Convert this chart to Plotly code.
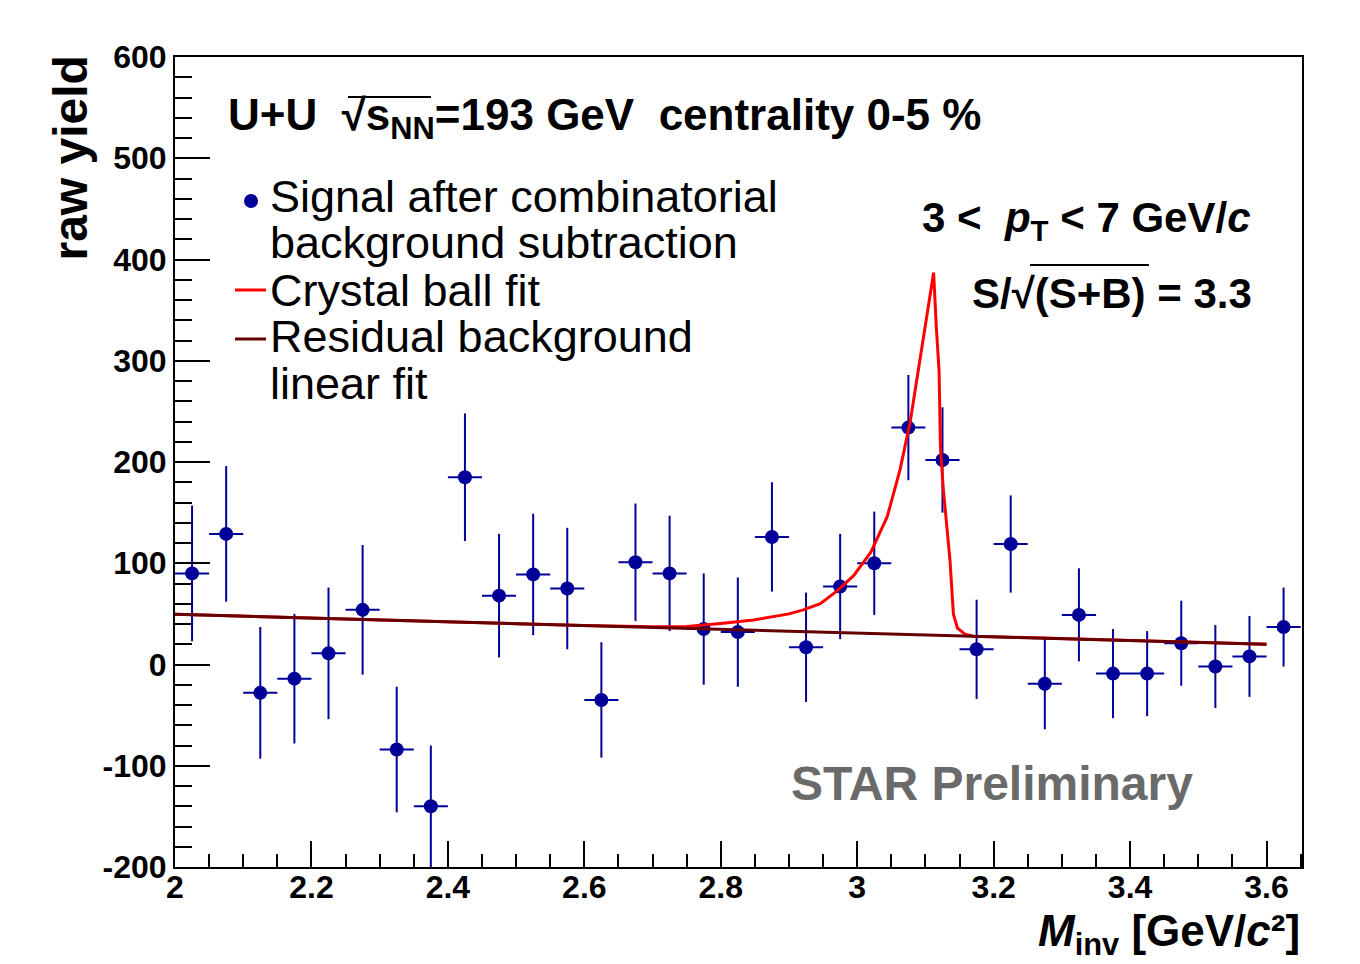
import plotly.graph_objects as go

# Invariant-mass bin centres [GeV/c^2] and background-subtracted raw yield
mass = [2.025, 2.075, 2.125, 2.175, 2.225, 2.275, 2.325, 2.375, 2.425, 2.475,
        2.525, 2.575, 2.625, 2.675, 2.725, 2.775, 2.825, 2.875, 2.925, 2.975,
        3.025, 3.075, 3.125, 3.175, 3.225, 3.275, 3.325, 3.375, 3.425, 3.475,
        3.525, 3.575, 3.625]
raw_yield = [90, 129, -28, -14, 11, 54, -84, -140, 185, 68,
             89, 75, -35, 101, 90, 35, 32, 126, 17, 77,
             100, 234, 202, 15, 119, -19, 49, -9, -9, 21,
             -2, 8, 37]
yield_err = [67, 67, 65, 64, 65, 64, 62, 60, 63, 61,
             60, 60, 57, 58, 57, 55, 54, 54, 54, 52,
             51, 52, 52, 49, 48, 45, 46, 44, 42, 42,
             41, 40, 39]
bin_half_width = [0.025] * len(mass)

# Crystal-ball fit (signal + residual background), sampled curve
cb_mass = [2.0, 2.2, 2.4, 2.6, 2.7, 2.75, 2.8, 2.848, 2.9, 2.921, 2.946, 2.971,
           2.995, 3.02, 3.044, 3.063, 3.078, 3.092, 3.107, 3.112, 3.116, 3.12,
           3.122, 3.126, 3.136, 3.141, 3.147, 3.158, 3.17, 3.3, 3.45, 3.6]
cb_yield = [49.6, 45.9, 42.2, 38.5, 37.4, 37.6, 40.5, 44, 50, 54, 60, 73,
            88, 111, 146, 193, 241, 300, 362, 387, 333, 290,
            215, 175, 103, 50, 36, 30, 28, 25.5, 22.7, 19.9]

# Residual background: linear fit
bg_mass = [2.0, 3.6]
bg_yield = [49.6, 19.9]

y_tick_vals = [-200, -100, 0, 100, 200, 300, 400, 500, 600]
y_tick_text = ["-200", "-100", "0", "100", "200", "300", "400", "500", "600"]

W, H = 1360, 964
PL, PR, PT, PB = 175, 1302, 57, 867
FONT = "Liberation Sans"
NAVY = "#000099"
RED = "#ff0000"
BROWN = "#660000"


def px(x):
    return (x - PL) / (PR - PL)


def py(y):
    return (PB - y) / (PB - PT)


fig = go.Figure()

fig.add_trace(go.Scatter(
    x=mass, y=raw_yield, mode="markers",
    marker=dict(color=NAVY, size=14),
    error_y=dict(type="data", array=yield_err, color=NAVY, thickness=2, width=0),
    error_x=dict(type="data", array=bin_half_width, color=NAVY, thickness=2, width=0),
    showlegend=False,
))
fig.add_trace(go.Scatter(
    x=cb_mass, y=cb_yield, mode="lines",
    line=dict(color=RED, width=3), showlegend=False,
))
fig.add_trace(go.Scatter(
    x=bg_mass, y=bg_yield, mode="lines",
    line=dict(color=BROWN, width=3), showlegend=False,
))

tick_font = dict(family=FONT, size=32, color="black", weight="bold")

fig.update_xaxes(
    range=[2.0, 3.652], tick0=2.0, dtick=0.2,
    ticks="inside", ticklen=26, tickwidth=2, tickcolor="black",
    minor=dict(dtick=0.05, ticks="inside", ticklen=13, tickwidth=2, tickcolor="black"),
    showline=True, linewidth=2, linecolor="black", mirror=True,
    showgrid=False, zeroline=False, tickfont=tick_font,
    ticklabelstandoff=-9,
)
fig.update_yaxes(
    range=[-200, 600], tickvals=y_tick_vals, ticktext=y_tick_text,
    ticks="inside", ticklen=35, tickwidth=2, tickcolor="black",
    minor=dict(dtick=20, ticks="inside", ticklen=17, tickwidth=2, tickcolor="black"),
    showline=True, linewidth=2, linecolor="black", mirror=True,
    showgrid=False, zeroline=False, tickfont=tick_font,
)

annotations = []
shapes = []


def label(text, x, y, size, xanchor="left", yanchor="middle", color="black",
          bold=False, angle=0):
    annotations.append(dict(
        text=text, x=px(x), y=py(y), xref="paper", yref="paper",
        xanchor=xanchor, yanchor=yanchor, showarrow=False, textangle=angle,
        font=dict(family=FONT, size=size, color=color,
                  weight="bold" if bold else "normal"),
    ))


# Header
label("U+U  √s<sub>NN</sub>=193 GeV  centrality 0-5 %", 226, 118, 44, bold=True)
shapes.append(dict(type="line", xref="paper", yref="paper",
                   x0=px(348), x1=px(431), y0=py(97), y1=py(97),
                   line=dict(color="black", width=2)))

# Legend
shapes.append(dict(type="circle", xref="paper", yref="paper",
                   x0=px(244), x1=px(258), y0=py(208), y1=py(194),
                   fillcolor=NAVY, line=dict(color=NAVY, width=0)))
shapes.append(dict(type="line", xref="paper", yref="paper",
                   x0=px(235), x1=px(266), y0=py(290), y1=py(290),
                   line=dict(color=RED, width=3)))
shapes.append(dict(type="line", xref="paper", yref="paper",
                   x0=px(235), x1=px(266), y0=py(339), y1=py(339),
                   line=dict(color=BROWN, width=3)))
label("Signal after combinatorial", 268, 196, 45)
label("background subtraction", 268, 242, 45)
label("Crystal ball fit", 268, 290, 45)
label("Residual background", 268, 336, 45)
label("linear fit", 268, 383, 45)

# Kinematic selection and significance
label("3 <  <i>p</i><sub>T</sub> < 7 GeV/<i>c</i>", 1252, 220, 42,
      xanchor="right", bold=True)
label("S/√(S+B) = 3.3", 1254, 293, 42, xanchor="right", bold=True)
shapes.append(dict(type="line", xref="paper", yref="paper",
                   x0=px(1030), x1=px(1149), y0=py(265), y1=py(265),
                   line=dict(color="black", width=2)))

label("STAR Preliminary", 992, 783, 48, xanchor="center", color="#6a6a6a",
      bold=True)

# Axis titles
label("<i>M</i><sub>inv</sub> [GeV/<i>c</i>²]", 1302, 934, 44,
      xanchor="right", bold=True)
label("raw yield", 70, 54, 48, xanchor="center", yanchor="top", bold=True,
      angle=-90)

fig.update_layout(
    width=W, height=H,
    margin=dict(l=PL, r=W - PR, t=PT, b=H - PB, autoexpand=False),
    paper_bgcolor="white", plot_bgcolor="white",
    annotations=annotations, shapes=shapes, showlegend=False,
)

fig.write_html("out.html")
